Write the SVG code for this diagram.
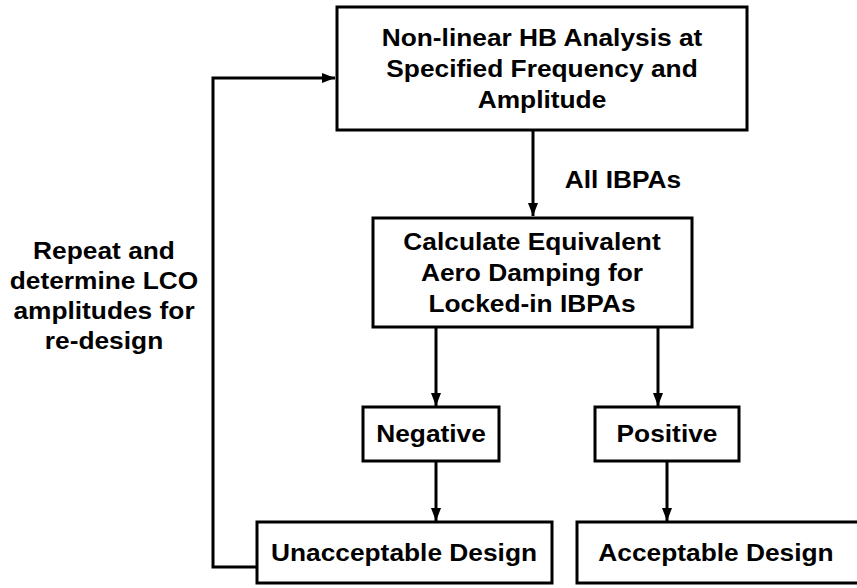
<svg xmlns="http://www.w3.org/2000/svg" width="857" height="588" viewBox="0 0 857 588">
<style>
.box{fill:#fff;stroke:#000;stroke-width:3}
.t{font-family:"Liberation Sans",Arial,sans-serif;font-weight:bold;font-size:23.5px;fill:#000;text-anchor:middle}
.c{fill:none;stroke:#000;stroke-width:3}
</style>
<defs>
<marker id="ah" markerUnits="userSpaceOnUse" markerWidth="14" markerHeight="12" refX="13" refY="5" orient="auto">
<path d="M0,0 L13,5 L0,10 Z" fill="#000"/>
</marker>
</defs>
<rect width="857" height="588" fill="#fff"/>
<g id="connectors">
<path class="c" d="M257,567 H213 V78 H335" marker-end="url(#ah)"/>
<path class="c" d="M533,130 V216" marker-end="url(#ah)"/>
<path class="c" d="M436,327 V406" marker-end="url(#ah)"/>
<path class="c" d="M658,327 V406" marker-end="url(#ah)"/>
<path class="c" d="M436,461 V521" marker-end="url(#ah)"/>
<path class="c" d="M667,461 V521" marker-end="url(#ah)"/>
</g>
<g id="hb">
<rect class="box" x="337" y="7" width="410" height="123"/>
<text class="t" transform="translate(542,46) scale(1.12,1)">Non-linear HB Analysis at</text>
<text class="t" transform="translate(542,77) scale(1.12,1)">Specified Frequency and</text>
<text class="t" transform="translate(542,108) scale(1.12,1)">Amplitude</text>
</g>
<g id="label-all">
<text class="t" transform="translate(623,188) scale(1.12,1)">All IBPAs</text>
</g>
<g id="calc">
<rect class="box" x="373" y="218" width="319" height="109"/>
<text class="t" transform="translate(532,250) scale(1.12,1)">Calculate Equivalent</text>
<text class="t" transform="translate(532,281) scale(1.12,1)">Aero Damping for</text>
<text class="t" transform="translate(532,312) scale(1.12,1)">Locked-in IBPAs</text>
</g>
<g id="negative">
<rect class="box" x="363" y="407" width="136" height="54"/>
<text class="t" transform="translate(431,442) scale(1.12,1)">Negative</text>
</g>
<g id="positive">
<rect class="box" x="595" y="407" width="144" height="54"/>
<text class="t" transform="translate(667,442) scale(1.12,1)">Positive</text>
</g>
<g id="unacceptable">
<rect class="box" x="257" y="522" width="295" height="61"/>
<text class="t" transform="translate(404,561) scale(1.12,1)">Unacceptable Design</text>
</g>
<g id="acceptable">
<rect class="box" x="577" y="522" width="300" height="61"/>
<text class="t" transform="translate(716,561) scale(1.12,1)">Acceptable Design</text>
</g>
<g id="label-repeat">
<text class="t" transform="translate(104,259) scale(1.12,1)">Repeat and</text>
<text class="t" transform="translate(104,289) scale(1.12,1)">determine LCO</text>
<text class="t" transform="translate(104,319) scale(1.12,1)">amplitudes for</text>
<text class="t" transform="translate(104,349) scale(1.12,1)">re-design</text>
</g>
</svg>
